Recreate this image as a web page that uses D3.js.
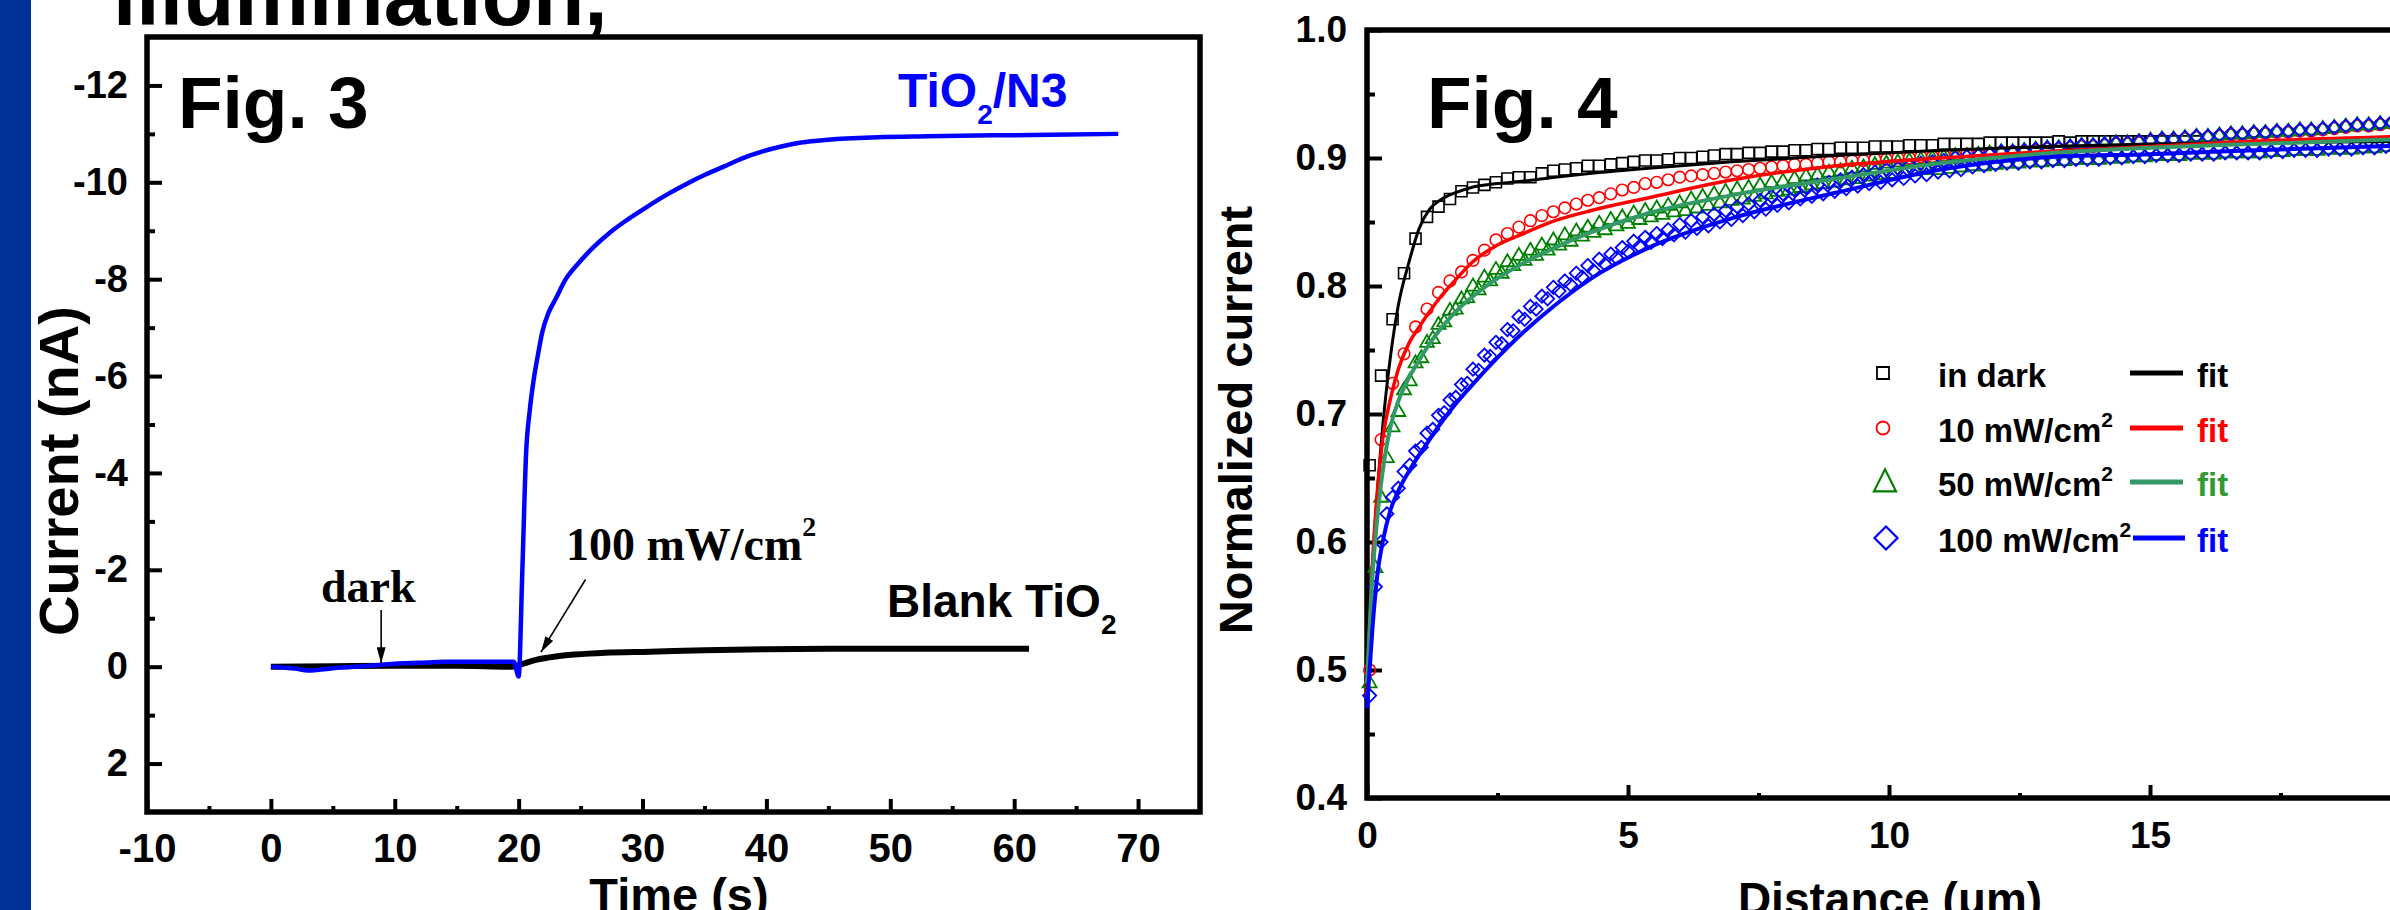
<!DOCTYPE html>
<html><head><meta charset="utf-8">
<script src="https://cdn.jsdelivr.net/npm/d3@7"></script>
<style>
html,body{margin:0;padding:0;background:#fff;}
svg{display:block;}
text{font-family:"Liberation Sans",Arial,sans-serif;font-weight:bold;}
.serif{font-family:"Liberation Serif","Times New Roman",serif;font-weight:bold;}
</style>
</head><body><svg id="c" width="2390" height="910"></svg>
<script>
// ---------------- Fig. 3 data ----------------
const timeN3 = [0,2,3,5,8,10,12,14,16,18,19.6,20.0,20.3,20.6,20.9,21.2,21.6,21.9,22.4,23.0,23.8,24.9,26.0,27.4,28.9,30.4,32.0,33.5,35.0,36.6,38.1,39.7,41.2,42.8,45.0,49.0,53.0,58.3,63.0,68.4];
const currentN3 = [0.0,0.04,0.08,0.03,-0.02,-0.06,-0.08,-0.1,-0.1,-0.1,-0.1,0.2,-2.0,-4.4,-5.3,-5.9,-6.5,-6.9,-7.3,-7.6,-8.0,-8.35,-8.65,-8.97,-9.25,-9.5,-9.75,-9.96,-10.15,-10.33,-10.5,-10.64,-10.74,-10.82,-10.88,-10.93,-10.95,-10.97,-10.98,-11.0];
const timeBlank = [0,5,10,15,19.5,20.2,21.4,23,24.5,27,30.6,35,40,45,50,55,61.2];
const currentBlank = [0,-0.01,-0.02,-0.02,0,-0.05,-0.14,-0.21,-0.25,-0.29,-0.31,-0.34,-0.36,-0.37,-0.37,-0.37,-0.37];
const fig3XTicks = [-10,0,10,20,30,40,50,60,70];
const fig3XMinor = [-5,5,15,25,35,45,55,65];
const fig3YTicks = [-12,-10,-8,-6,-4,-2,0,2];
const fig3YMinor = [-11,-9,-7,-5,-3,-1,1];

// ---------------- Fig. 4 data ----------------
const distance = [0.05,0.27,0.49,0.71,0.93,1.15,1.37,1.59,1.81,2.03,2.25,2.47,2.69,2.91,3.13,3.35,3.57,3.79,4.01,4.23,4.45,4.67,4.89,5.11,5.33,5.55,5.77,5.99,6.21,6.43,6.65,6.87,7.09,7.31,7.53,7.75,7.97,8.19,8.41,8.63,8.85,9.07,9.29,9.51,9.73,9.95,10.17,10.39,10.61,10.83,11.05,11.27,11.49,11.71,11.93,12.15,12.37,12.59,12.81,13.03,13.25,13.47,13.69,13.91,14.13,14.35,14.57,14.79,15.01,15.23,15.45,15.67,15.89,16.11,16.33,16.55,16.77,16.99,17.21,17.43,17.65,17.87,18.09,18.31,18.53,18.75,18.97,19.19,19.41,19.63,19.85];
const distanceShifted = [0.16,0.38,0.60,0.82,1.04,1.26,1.48,1.70,1.92,2.14,2.36,2.58,2.80,3.02,3.24,3.46,3.68,3.90,4.12,4.34,4.56,4.78,5.00,5.22,5.44,5.66,5.88,6.10,6.32,6.54,6.76,6.98,7.20,7.42,7.64,7.86,8.08,8.30,8.52,8.74,8.96,9.18,9.40,9.62,9.84,10.06,10.28,10.50,10.72,10.94,11.16,11.38,11.60,11.82,12.04,12.26,12.48,12.70,12.92,13.14,13.36,13.58,13.80,14.02,14.24,14.46,14.68,14.90,15.12,15.34,15.56,15.78,16.00,16.22,16.44,16.66,16.88,17.10,17.32,17.54,17.76,17.98,18.20,18.42,18.64,18.86,19.08,19.30,19.52,19.74,19.96];
const darkCurrent = [0.66,0.73,0.774,0.810,0.837,0.854,0.862,0.868,0.874,0.877,0.879,0.881,0.884,0.885,0.885,0.888,0.890,0.891,0.892,0.894,0.894,0.895,0.896,0.897,0.898,0.898,0.899,0.900,0.900,0.901,0.902,0.903,0.903,0.904,0.904,0.905,0.905,0.906,0.906,0.907,0.907,0.908,0.908,0.908,0.909,0.909,0.909,0.910,0.910,0.910,0.911,0.911,0.911,0.911,0.912,0.912,0.912,0.912,0.912,0.912,0.913,0.912,0.913,0.913,0.913,0.913,0.913,0.913,0.913,0.913,0.913,0.913,0.913];
const mw10Current = [0.50,0.68,0.724,0.747,0.768,0.782,0.795,0.804,0.811,0.820,0.828,0.836,0.841,0.846,0.851,0.855,0.858,0.861,0.864,0.867,0.869,0.872,0.875,0.877,0.880,0.881,0.883,0.885,0.886,0.887,0.888,0.889,0.890,0.891,0.892,0.893,0.894,0.895,0.895,0.896,0.897,0.897,0.898,0.898,0.899,0.899,0.900,0.900,0.901,0.901,0.902,0.902,0.903,0.903,0.904,0.904,0.905,0.905,0.906,0.907,0.907,0.908,0.909,0.909,0.910,0.911,0.911,0.912,0.913,0.914,0.914,0.915,0.916,0.916,0.917,0.918,0.918,0.919,0.919,0.920,0.920,0.921,0.921,0.922,0.923,0.924,0.925,0.925,0.926,0.927,0.927];
const mw50CurrentA = [0.49,0.635,0.690,0.719,0.740,0.756,0.770,0.781,0.790,0.800,0.807,0.813,0.819,0.824,0.828,0.832,0.836,0.840,0.843,0.846,0.849,0.852,0.854,0.857,0.859,0.861,0.863,0.865,0.868,0.870,0.872,0.874,0.876,0.877,0.879,0.881,0.882,0.884,0.886,0.887,0.889,0.890,0.892,0.893,0.895,0.896,0.897,0.898,0.899,0.900,0.901,0.902,0.902,0.903,0.904,0.905,0.905,0.906,0.907,0.908,0.908,0.909,0.910,0.910,0.911,0.912,0.912,0.913,0.914,0.915,0.915,0.916,0.917,0.917,0.918,0.919,0.919,0.920,0.920,0.921,0.921,0.922,0.922,0.923,0.924,0.925,0.926,0.926,0.927,0.928,0.928];
const mw50CurrentB = [0.58,0.666,0.702,0.726,0.744,0.759,0.772,0.782,0.791,0.797,0.804,0.810,0.816,0.820,0.824,0.828,0.832,0.835,0.839,0.842,0.844,0.847,0.849,0.852,0.854,0.856,0.858,0.859,0.861,0.863,0.865,0.867,0.868,0.870,0.872,0.874,0.875,0.877,0.879,0.880,0.881,0.883,0.884,0.886,0.887,0.888,0.889,0.890,0.891,0.891,0.892,0.893,0.894,0.894,0.895,0.896,0.896,0.897,0.897,0.898,0.898,0.899,0.899,0.899,0.900,0.900,0.901,0.901,0.902,0.902,0.902,0.903,0.903,0.903,0.904,0.904,0.904,0.904,0.905,0.905,0.906,0.906,0.906,0.907,0.907,0.907,0.908,0.908,0.909,0.909,0.910];
const mw100CurrentA = [0.48,0.600,0.635,0.655,0.671,0.685,0.699,0.711,0.723,0.735,0.746,0.756,0.766,0.776,0.784,0.792,0.799,0.804,0.810,0.816,0.821,0.825,0.830,0.835,0.838,0.841,0.844,0.848,0.851,0.854,0.856,0.859,0.862,0.864,0.867,0.870,0.872,0.875,0.877,0.879,0.881,0.883,0.885,0.887,0.889,0.891,0.892,0.894,0.896,0.897,0.898,0.900,0.901,0.902,0.903,0.905,0.905,0.906,0.907,0.908,0.908,0.909,0.910,0.910,0.911,0.912,0.912,0.913,0.914,0.915,0.915,0.916,0.917,0.917,0.918,0.919,0.919,0.920,0.920,0.921,0.921,0.922,0.922,0.923,0.924,0.925,0.926,0.926,0.927,0.928,0.928];
const mw100CurrentB = [0.565,0.622,0.642,0.660,0.674,0.688,0.701,0.713,0.724,0.734,0.745,0.755,0.765,0.774,0.782,0.790,0.796,0.801,0.807,0.812,0.817,0.822,0.827,0.831,0.834,0.837,0.840,0.842,0.845,0.847,0.850,0.852,0.855,0.858,0.860,0.863,0.865,0.868,0.870,0.872,0.874,0.876,0.878,0.880,0.881,0.883,0.884,0.886,0.887,0.889,0.890,0.891,0.893,0.894,0.895,0.896,0.896,0.897,0.897,0.898,0.898,0.899,0.899,0.899,0.900,0.900,0.901,0.901,0.902,0.902,0.902,0.903,0.903,0.903,0.904,0.904,0.904,0.904,0.905,0.905,0.906,0.906,0.906,0.907,0.907,0.907,0.908,0.908,0.909,0.909,0.910];
const fitDistance = [0,0.1,0.2,0.3,0.45,0.6,0.8,1.0,1.2,1.4,1.7,2.0,2.5,3.0,3.6,4.3,5.4,7,9,11,13,15,17,20];
const darkFit = [0.49,0.575,0.64,0.69,0.745,0.785,0.818,0.845,0.860,0.867,0.873,0.877,0.880,0.882,0.885,0.888,0.892,0.897,0.902,0.906,0.909,0.911,0.912,0.913];
const mw10Fit = [0.48,0.58,0.64,0.68,0.712,0.735,0.755,0.768,0.780,0.791,0.805,0.818,0.832,0.841,0.851,0.859,0.869,0.883,0.894,0.900,0.905,0.909,0.913,0.917];
const mw50Fit = [0.49,0.57,0.62,0.655,0.69,0.71,0.728,0.742,0.755,0.766,0.780,0.791,0.806,0.818,0.830,0.842,0.857,0.871,0.884,0.896,0.9035,0.908,0.911,0.915];
const mw100Fit = [0.47,0.53,0.575,0.60,0.625,0.64,0.655,0.668,0.68,0.692,0.708,0.722,0.744,0.764,0.785,0.806,0.830,0.853,0.873,0.891,0.9005,0.903,0.906,0.910];
const fig4XTicks = [0,5,10,15];
const fig4XMinor = [2.5,7.5,12.5,17.5];
const fig4YTicks = [0.4,0.5,0.6,0.7,0.8,0.9,1.0];
const fig4YMinor = [0.45,0.55,0.65,0.75,0.85,0.95];
const legendLabels = ["in dark","10 mW/cm","50 mW/cm","100 mW/cm"];
const legendSup = ["","2","2","2"];

// ---------------- drawing ----------------
const svg = d3.select("#c");
svg.append("rect").attr("width",2390).attr("height",910).attr("fill","#fff");
const defs = svg.append("defs");
defs.append("marker").attr("id","ah").attr("viewBox","0 0 10 10").attr("refX",10).attr("refY",5)
  .attr("markerWidth",16).attr("markerHeight",9).attr("markerUnits","userSpaceOnUse")
  .attr("orient","auto").attr("preserveAspectRatio","none")
  .append("path").attr("d","M0,0 L10,5 L0,10 Z").attr("fill","#000");

svg.append("rect").attr("x",0).attr("y",0).attr("width",31).attr("height",910).attr("fill","#003399");
svg.append("text").attr("x",113).attr("y",25).attr("font-size",84).attr("fill","#000").text("illumination,");

function styleAxis(g, fs){
  g.select(".domain").remove();
  g.selectAll(".tick line").attr("stroke","#000").attr("stroke-width",4);
  g.selectAll(".tick text").attr("fill","#000").attr("font-size",fs)
    .attr("font-family","'Liberation Sans',Arial,sans-serif").attr("font-weight","bold");
}

// ===== Fig 3 =====
const x3 = d3.scaleLinear().domain([-10,75]).range([147,1200]);
const y3 = d3.scaleLinear().domain([-13,3]).range([37,812]);
const g3 = svg.append("g");
g3.append("g").attr("transform","translate(0,812)")
  .call(d3.axisBottom(x3).tickValues(fig3XTicks).tickFormat(d=>String(d)).tickSizeInner(-13).tickSizeOuter(0).tickPadding(22))
  .call(g=>styleAxis(g,40));
g3.append("g").attr("transform","translate(0,812)")
  .call(d3.axisBottom(x3).tickValues(fig3XMinor).tickFormat("").tickSizeInner(-6).tickSizeOuter(0))
  .call(g=>styleAxis(g,40));
g3.append("g").attr("transform","translate(147,0)")
  .call(d3.axisLeft(y3).tickValues(fig3YTicks).tickFormat(d=>String(d)).tickSizeInner(-15).tickSizeOuter(0).tickPadding(19))
  .call(g=>styleAxis(g,38));
g3.append("g").attr("transform","translate(147,0)")
  .call(d3.axisLeft(y3).tickValues(fig3YMinor).tickFormat("").tickSizeInner(-8).tickSizeOuter(0))
  .call(g=>styleAxis(g,38));
g3.append("rect").attr("x",x3(-10)).attr("y",y3(-13)).attr("width",x3(75)-x3(-10)).attr("height",y3(3)-y3(-13))
  .attr("fill","none").attr("stroke","#000").attr("stroke-width",5.5);

const line3 = d3.line().curve(d3.curveMonotoneX);
g3.append("path").attr("d",line3(timeBlank.map((t,i)=>[x3(t),y3(currentBlank[i])])))
  .attr("fill","none").attr("stroke","#000").attr("stroke-width",6);
g3.append("path").attr("d",line3(timeN3.map((t,i)=>[x3(t),y3(currentN3[i])])))
  .attr("fill","none").attr("stroke","#0000ff").attr("stroke-width",4.5);

g3.append("text").attr("x",178).attr("y",128).attr("font-size",73).text("Fig. 3");
const tl = g3.append("text").attr("x",898).attr("y",107).attr("font-size",48).attr("fill","#0000ff");
tl.append("tspan").text("TiO");
tl.append("tspan").attr("font-size",28).attr("dy",17).text("2");
tl.append("tspan").attr("dy",-17).text("/N3");
const bl = g3.append("text").attr("x",887).attr("y",617).attr("font-size",46).attr("fill","#000");
bl.append("tspan").text("Blank TiO");
bl.append("tspan").attr("font-size",28).attr("dy",17).text("2");
g3.append("text").attr("class","serif").attr("x",321).attr("y",602).attr("font-size",46).text("dark");
const mw = g3.append("text").attr("class","serif").attr("x",566).attr("y",560).attr("font-size",46);
mw.append("tspan").text("100 mW/cm");
mw.append("tspan").attr("font-size",28).attr("dy",-24).text("2");
g3.append("line").attr("x1",x3(8.9)).attr("y1",y3(-1.17)).attr("x2",x3(8.9)).attr("y2",y3(-0.07))
  .attr("stroke","#000").attr("stroke-width",1.6).attr("marker-end","url(#ah)");
g3.append("line").attr("x1",x3(25.4)).attr("y1",y3(-1.8)).attr("x2",x3(21.8)).attr("y2",y3(-0.3))
  .attr("stroke","#000").attr("stroke-width",1.6).attr("marker-end","url(#ah)");
g3.append("text").attr("transform","translate(58,471) rotate(-90)").attr("text-anchor","middle")
  .attr("dy","0.36em").attr("font-size",56).text("Current (nA)");
g3.append("text").attr("x",679).attr("y",911).attr("text-anchor","middle").attr("font-size",47).text("Time (s)");

// ===== Fig 4 =====
const x4 = d3.scaleLinear().domain([0,20]).range([1367,2411]);
const y4 = d3.scaleLinear().domain([0.4,1.0]).range([798,30]);
const g4 = svg.append("g");
g4.append("g").attr("transform","translate(0,798)")
  .call(d3.axisBottom(x4).tickValues(fig4XTicks).tickFormat(d=>String(d)).tickSizeInner(-13).tickSizeOuter(0).tickPadding(24))
  .call(g=>styleAxis(g,37));
g4.append("g").attr("transform","translate(0,798)")
  .call(d3.axisBottom(x4).tickValues(fig4XMinor).tickFormat("").tickSizeInner(-5).tickSizeOuter(0))
  .call(g=>styleAxis(g,37));
g4.append("g").attr("transform","translate(1367,0)")
  .call(d3.axisLeft(y4).tickValues(fig4YTicks).tickFormat(d3.format(".1f")).tickSizeInner(-15).tickSizeOuter(0).tickPadding(20))
  .call(g=>styleAxis(g,37));
g4.append("g").attr("transform","translate(1367,0)")
  .call(d3.axisLeft(y4).tickValues(fig4YMinor).tickFormat("").tickSizeInner(-8).tickSizeOuter(0))
  .call(g=>styleAxis(g,37));
g4.append("path").attr("d",`M${x4(20)},${y4(1)}H${x4(0)}V${y4(0.4)}H${x4(20)}`)
  .attr("fill","none").attr("stroke","#000").attr("stroke-width",5.5);

const sq = s=>`M${-s},${-s}h${2*s}v${2*s}h${-2*s}Z`;
const tri = (w,h)=>`M0,${-h*0.62}L${w/2},${h*0.38}L${-w/2},${h*0.38}Z`;
const dia = r=>`M0,${-r}L${r},0L0,${r}L${-r},0Z`;

function drawMarkers(xs, ys, path, color, sw){
  g4.append("g").selectAll("path").data(ys).join("path")
    .attr("transform",(d,i)=>`translate(${x4(xs[i])},${y4(d)})`)
    .attr("d",path).attr("fill","none").attr("stroke",color).attr("stroke-width",sw);
}
drawMarkers(distance, darkCurrent, sq(5.5), "#000", 1.6);
g4.append("g").selectAll("circle").data(mw10Current).join("circle")
  .attr("cx",(d,i)=>x4(distance[i])).attr("cy",d=>y4(d)).attr("r",5.8)
  .attr("fill","none").attr("stroke","#ff0000").attr("stroke-width",1.6);
drawMarkers(distance, mw50CurrentA, tri(14,12), "#008000", 1.8);
drawMarkers(distanceShifted, mw50CurrentB, tri(14,12), "#008000", 1.8);
drawMarkers(distance, mw100CurrentA, dia(6.6), "#0000ff", 1.8);
drawMarkers(distanceShifted, mw100CurrentB, dia(6.6), "#0000ff", 1.8);

const line4 = d3.line().curve(d3.curveMonotoneX);
[[darkFit,"#000",3],[mw10Fit,"#ff0000",3.5],[mw50Fit,"#339966",4],[mw100Fit,"#0000ff",4]].forEach(([ys,c,w])=>{
  g4.append("path").attr("d",line4(fitDistance.map((x,i)=>[x4(x),y4(ys[i])])))
    .attr("fill","none").attr("stroke",c).attr("stroke-width",w);
});

g4.append("text").attr("x",1427).attr("y",128).attr("font-size",73).text("Fig. 4");
g4.append("text").attr("transform","translate(1235,420) rotate(-90)").attr("text-anchor","middle")
  .attr("dy","0.36em").attr("font-size",47).text("Normalized current");
g4.append("text").attr("x",1890).attr("y",915).attr("text-anchor","middle").attr("font-size",46).text("Distance (\u03bcm)");

// legend
const legY = [373,428,482,538];
const fitLineColor = ["#000","#ff0000","#339966","#0000ff"];
const fitTextColor = ["#000","#ff0000","#339933","#0000ff"];
const lg = g4.append("g");
lg.append("path").attr("transform",`translate(1883,${legY[0]})`).attr("d",sq(6)).attr("fill","none").attr("stroke","#000").attr("stroke-width",1.8);
lg.append("circle").attr("cx",1883).attr("cy",legY[1]).attr("r",6.5).attr("fill","none").attr("stroke","#ff0000").attr("stroke-width",1.8);
lg.append("path").attr("transform",`translate(1885,${legY[2]+1})`).attr("d",tri(22,22)).attr("fill","none").attr("stroke","#008000").attr("stroke-width",2.2);
lg.append("path").attr("transform",`translate(1886,${legY[3]})`).attr("d",dia(11.5)).attr("fill","none").attr("stroke","#0000ff").attr("stroke-width",2.2);
legendLabels.forEach((lab,i)=>{
  const t = lg.append("text").attr("x",1938).attr("y",legY[i]+14).attr("font-size",33).attr("fill","#000");
  t.append("tspan").text(lab);
  if(legendSup[i]) t.append("tspan").attr("font-size",21).attr("dy",-15).text(legendSup[i]);
  lg.append("line").attr("x1",i===3?2133:2130).attr("x2",i===3?2185:2183).attr("y1",legY[i]).attr("y2",legY[i])
    .attr("stroke",fitLineColor[i]).attr("stroke-width",5);
  lg.append("text").attr("x",2197).attr("y",legY[i]+14).attr("font-size",33).attr("fill",fitTextColor[i]).text("fit");
});
</script>
</body></html>
